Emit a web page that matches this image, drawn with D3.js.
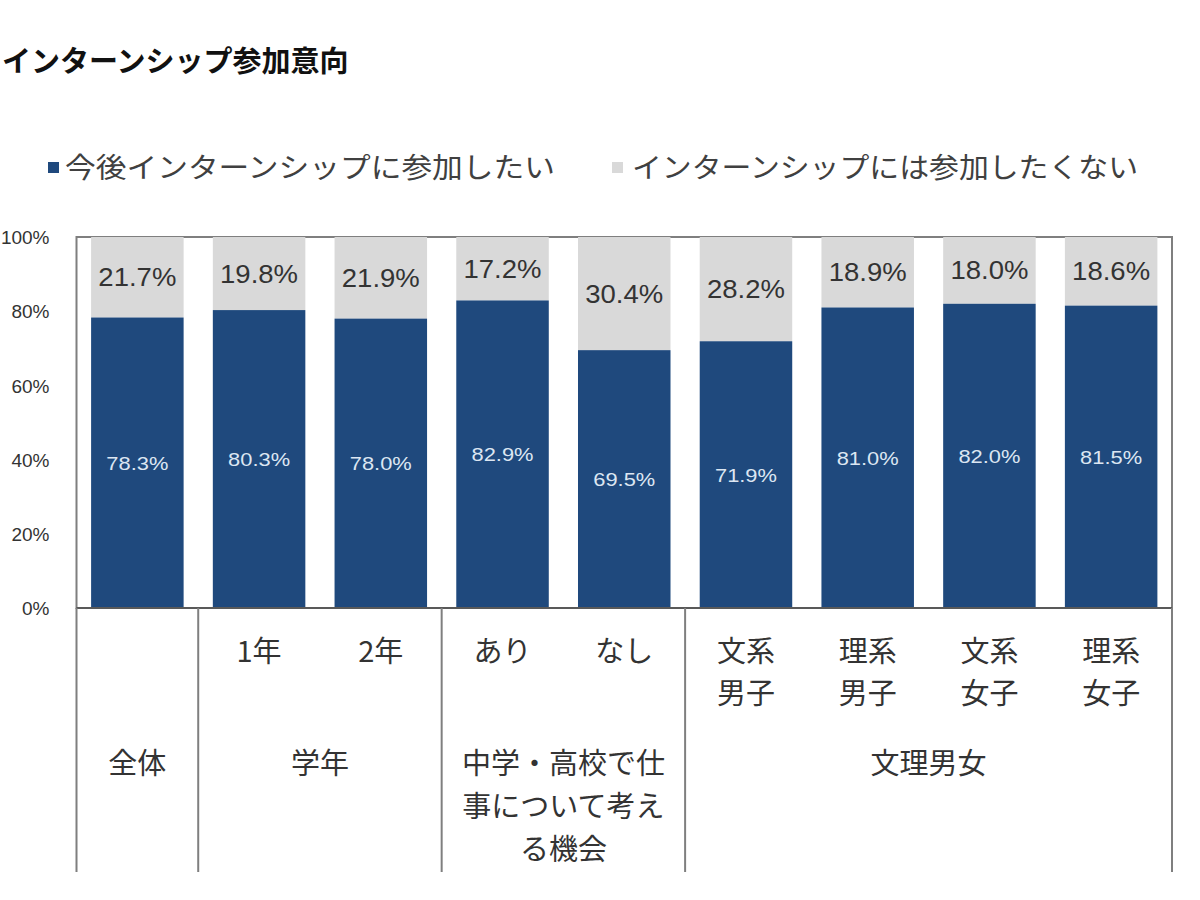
<!DOCTYPE html>
<html><head><meta charset="utf-8">
<script src="https://cdn.jsdelivr.net/npm/d3@7"></script>
<style>
html,body{margin:0;padding:0;background:#fff;}
svg{display:block;}
text{font-family:"Liberation Sans","Noto Sans CJK JP",sans-serif;}
</style></head><body>
<svg id="chart" width="1200" height="900"></svg>
<script>
// ---- data ----
const categories = ["全体","1年","2年","あり","なし","文系男子","理系男子","文系女子","理系女子"];
const subLabels = [[], ["1年"], ["2年"], ["あり"], ["なし"], ["文系","男子"], ["理系","男子"], ["文系","女子"], ["理系","女子"]];
const wantValues = [78.3, 80.3, 78.0, 82.9, 69.5, 71.9, 81.0, 82.0, 81.5];
const notWantValues = [21.7, 19.8, 21.9, 17.2, 30.4, 28.2, 18.9, 18.0, 18.6];
const groupLabels = [["全体"], ["学年"], ["中学・高校で仕","事について考え","る機会"], ["文理男女"]];
const groupStart = [0, 1, 3, 5];
const groupEnd = [0, 2, 4, 8];
const seriesNames = ["今後インターンシップに参加したい", "インターンシップには参加したくない"];
const yTicks = [0, 0.2, 0.4, 0.6, 0.8, 1.0];
const title = "インターンシップ参加意向";

const blue = "#1f497d", gray = "#d9d9d9";
const svg = d3.select("#chart");

const x = d3.scaleBand().domain(categories).range([76.5, 1172]).paddingInner(0.24).paddingOuter(0.12);
const y = d3.scaleLinear().domain([0, 1]).range([608, 237]);

// title
svg.append("text").attr("x", 2).attr("y", 72).attr("text-anchor", "start")
  .attr("font-size", 29).attr("font-weight", "bold").attr("fill", "#111")
  .style("font-family", "'Noto Sans CJK JP'").text(title);

// legend
const legendItems = [
  {name: seriesNames[0], color: blue, sx: 48, tx: 65, tw: 490},
  {name: seriesNames[1], color: gray, sx: 612, tx: 632, tw: 506}
];
legendItems.forEach(l => {
  svg.append("rect").attr("x", l.sx).attr("y", 162).attr("width", 11).attr("height", 11).attr("fill", l.color);
  svg.append("text").attr("x", l.tx).attr("y", 178).attr("font-size", 28).attr("fill", "#404040")
    .style("font-family", "'Noto Sans CJK JP'")
    .attr("textLength", l.tw).attr("lengthAdjust", "spacingAndGlyphs").text(l.name);
});

// frame
const x0 = x.range()[0], x1 = x.range()[1];
svg.append("rect").attr("x", x0).attr("y", y(1)).attr("width", x1 - x0).attr("height", y(0) - y(1))
  .attr("fill", "none").attr("stroke", "#7f7f7f").attr("stroke-width", 2);

// bars
const data = categories.map((c, i) => ({cat: c, want: wantValues[i] / 100, not: notWantValues[i] / 100}));
svg.append("g").selectAll("rect").data(data).join("rect")
  .attr("x", d => x(d.cat)).attr("width", x.bandwidth())
  .attr("y", d => y(1)).attr("height", d => y(d.want) - y(1)).attr("fill", gray);
svg.append("g").selectAll("rect").data(data).join("rect")
  .attr("x", d => x(d.cat)).attr("width", x.bandwidth())
  .attr("y", d => y(d.want)).attr("height", d => y(0) - y(d.want)).attr("fill", blue);

// value labels
svg.append("g").selectAll("text").data(data).join("text")
  .attr("x", d => x(d.cat) + x.bandwidth() / 2)
  .attr("y", d => (y(1) + y(d.want)) / 2 + 9)
  .attr("text-anchor", "middle").attr("font-size", 26).attr("fill", "#333")
  .attr("textLength", 78).attr("lengthAdjust", "spacingAndGlyphs")
  .text(d => (d.not * 100).toFixed(1) + "%");
svg.append("g").selectAll("text").data(data).join("text")
  .attr("x", d => x(d.cat) + x.bandwidth() / 2)
  .attr("y", d => (y(0) + y(d.want)) / 2 + 7)
  .attr("text-anchor", "middle").attr("font-size", 19).attr("fill", "#dce6f2")
  .attr("textLength", 62).attr("lengthAdjust", "spacingAndGlyphs")
  .text(d => (d.want * 100).toFixed(1) + "%");

// y axis
const yAxis = d3.axisLeft(y).tickValues(yTicks).tickFormat(d3.format(".0%")).tickSize(0).tickPadding(27);
const ya = svg.append("g").attr("transform", `translate(${x0},0)`).call(yAxis);
ya.select(".domain").remove();
ya.selectAll("text").attr("font-size", 19).attr("fill", "#333")
  .style("font-family", "'Liberation Sans'").attr("dy", "0.35em");

// x axis line
svg.append("line").attr("x1", x0).attr("x2", x1).attr("y1", y(0)).attr("y2", y(0))
  .attr("stroke", "#595959").attr("stroke-width", 2);

// table separators
const step = x.step();
const bounds = [0, 1, 3, 5, 9].map(k => x0 + k * step);
svg.append("g").selectAll("line").data(bounds).join("line")
  .attr("x1", d => Math.min(d, x1)).attr("x2", d => Math.min(d, x1))
  .attr("y1", y(0)).attr("y2", 872)
  .attr("stroke", "#7f7f7f").attr("stroke-width", 2);

// sub labels
categories.forEach((c, i) => {
  subLabels[i].forEach((s, j) => {
    svg.append("text").attr("x", x(c) + x.bandwidth() / 2).attr("y", 662 + j * 42)
      .attr("text-anchor", "middle").attr("font-size", 29).attr("fill", "#333")
      .style("font-family", "'Noto Sans CJK JP'").text(s);
  });
});

// group labels
groupLabels.forEach((g, i) => {
  const cx = (x0 + groupStart[i] * step + x0 + (groupEnd[i] + 1) * step) / 2;
  g.forEach((s, j) => {
    svg.append("text").attr("x", cx).attr("y", 774 + j * 43)
      .attr("text-anchor", "middle").attr("font-size", 29).attr("fill", "#333")
      .style("font-family", "'Noto Sans CJK JP'").text(s);
  });
});
</script>
</body></html>
